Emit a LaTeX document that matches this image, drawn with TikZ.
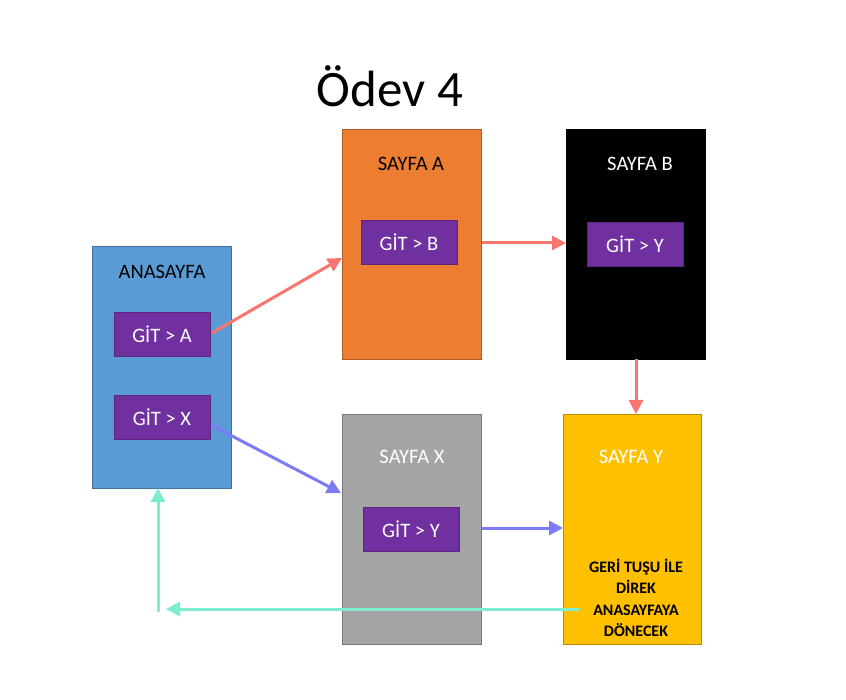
\documentclass[tikz,border=0pt]{standalone}
\usepackage{fontspec}
\setmainfont{Carlito}
\usetikzlibrary{arrows.meta}
\definecolor{cblue}{HTML}{5B9BD5}
\definecolor{cblueb}{HTML}{41719C}
\definecolor{corange}{HTML}{ED7D31}
\definecolor{corangeb}{HTML}{AE5A21}
\definecolor{cgray}{HTML}{A5A5A5}
\definecolor{cgrayb}{HTML}{787878}
\definecolor{cyellow}{HTML}{FFC000}
\definecolor{cyellowb}{HTML}{BC8C00}
\definecolor{cpurple}{HTML}{7030A0}
\definecolor{cred}{HTML}{F8766D}
\definecolor{cbluearr}{HTML}{7B7BF7}
\definecolor{ccyan}{HTML}{7DEDCF}
\tikzset{
  pagebox/.style={rectangle, draw, line width=0.8pt, minimum width=139pt, minimum height=230pt, inner sep=0pt},
  btn/.style={rectangle, fill=cpurple, draw=cpurple!80!black, line width=0.5pt, minimum width=96pt, minimum height=44pt, text=white, font=\fontsize{20.5}{24}\selectfont, inner sep=0pt},
  ptitle/.style={font=\fontsize{20.5}{24}\selectfont, inner sep=0pt},
  arr/.style={line width=3pt, -{Triangle[length=14pt,width=14pt]}},
}
\begin{document}
\begin{tikzpicture}[x=1pt,y=-1pt]
\useasboundingbox (0,0) rectangle (846,700);
\node[font=\fontsize{51}{60}\selectfont, inner sep=0pt] (title) at (390,86) {Ödev 4};
% page boxes
\node[pagebox, fill=cblue, draw=cblueb, minimum height=242pt] (ana) at (161.5,367) {};
\node[pagebox, fill=corange, draw=corangeb] (sa) at (411.5,244) {};
\node[pagebox, fill=black, draw=black] (sb) at (635.5,244) {};
\node[pagebox, fill=cgray, draw=cgrayb] (sx) at (411.5,529) {};
\node[pagebox, fill=cyellow, draw=cyellowb, minimum width=138pt] (sy) at (632,529) {};
% titles
\node[ptitle] (anat) at (162,272) {ANASAYFA};
\node[ptitle] (sat) at (411,164) {SAYFA A};
\node[ptitle, text=white] (sbt) at (640,164) {SAYFA B};
\node[ptitle, text=white] (sxt) at (412,457) {SAYFA X};
\node[ptitle, text=white] (syt) at (631,457) {SAYFA Y};
\node[font=\fontsize{16}{21.5}\selectfont\bfseries, align=center, inner sep=0pt] (syn) at (636,598) {GERİ TUŞU İLE\\DİREK\\ANASAYFAYA\\DÖNECEK};
% buttons
\node[btn] (gita) at (162,334) {GİT > A};
\node[btn] (gitx) at (162,417) {GİT > X};
\node[btn] (gitb) at (409,242) {GİT > B};
\node[btn] (gityb) at (635,244) {GİT > Y};
\node[btn] (gityx) at (411,529) {GİT > Y};
% coordinates
\coordinate (a1) at (212,333);
\coordinate (a2) at (342,258);
\coordinate (b1) at (482,243);
\coordinate (b2) at (566,243);
\coordinate (c1) at (636,359);
\coordinate (c2) at (636,414);
\coordinate (x1) at (211,425);
\coordinate (x2) at (341,493);
\coordinate (y1) at (482,528);
\coordinate (y2) at (563,528);
\coordinate (h1) at (579,609);
\coordinate (h2) at (166,609);
\coordinate (v1) at (158,612);
\coordinate (v2) at (158,488);
% arrows
\draw[arr, cred] (a1) -- (a2);
\draw[arr, cred] (b1) -- (b2);
\draw[arr, cred] (c1) -- (c2);
\draw[arr, cbluearr] (x1) -- (x2);
\draw[arr, cbluearr] (y1) -- (y2);
\draw[arr, ccyan] (h1) -- (h2);
\draw[arr, ccyan] (v1) -- (v2);
\end{tikzpicture}
\end{document}
